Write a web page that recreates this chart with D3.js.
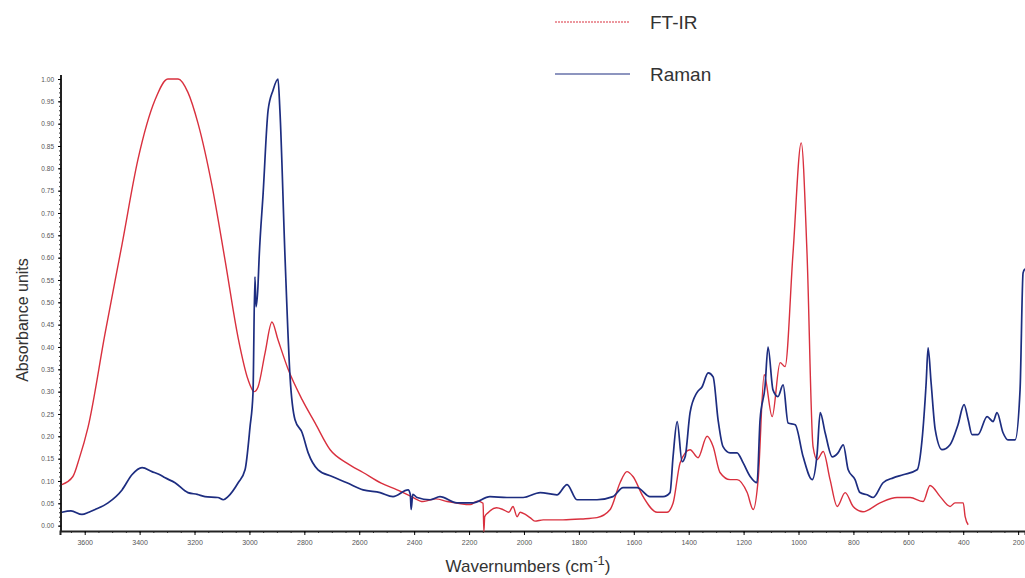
<!DOCTYPE html>
<html>
<head>
<meta charset="utf-8">
<script src="https://cdn.jsdelivr.net/npm/d3@7"></script>
<style>
  body { margin: 0; background: #fff; }
  svg { display: block; font-family: "Liberation Sans", Arial, sans-serif; }
</style>
</head>
<body>
<svg id="chart" width="1025" height="578"></svg>
<script>
// wavenumber (cm-1) / absorbance
var irWave = [3683, 3643, 3620, 3588, 3526, 3464, 3406, 3344, 3297, 3260, 3224, 3187, 3136, 3089, 3041, 3005, 2983, 2969, 2943, 2918, 2896, 2859, 2808, 2761, 2706, 2645, 2586, 2520, 2462, 2410, 2368, 2320, 2280, 2240, 2196, 2170, 2149, 2146, 2143, 2131, 2100, 2076, 2055, 2040, 2025, 2014, 1995, 1978, 1960, 1930, 1858, 1790, 1734, 1686, 1650, 1625, 1603, 1566, 1515, 1479, 1457, 1431, 1395, 1366, 1333, 1311, 1286, 1249, 1224, 1187, 1165, 1147, 1125, 1096, 1067, 1049, 1020, 990, 969, 947, 932, 910, 885, 859, 830, 801, 765, 703, 641, 593, 546, 521, 484, 448, 430, 400, 393, 382];
var irAbs  = [0.092, 0.11, 0.15, 0.22, 0.43, 0.63, 0.82, 0.953, 1.0, 1.0, 0.97, 0.90, 0.76, 0.595, 0.42, 0.327, 0.30, 0.31, 0.387, 0.456, 0.416, 0.35, 0.282, 0.23, 0.17, 0.14, 0.119, 0.095, 0.08, 0.065, 0.054, 0.06, 0.054, 0.05, 0.047, 0.055, 0.05, -0.013, 0.02, 0.029, 0.04, 0.036, 0.03, 0.043, 0.02, 0.03, 0.025, 0.018, 0.01, 0.013, 0.013, 0.015, 0.018, 0.036, 0.096, 0.121, 0.11, 0.065, 0.03, 0.03, 0.05, 0.141, 0.17, 0.152, 0.2, 0.177, 0.119, 0.103, 0.103, 0.074, 0.036, 0.103, 0.338, 0.244, 0.365, 0.356, 0.61, 0.857, 0.61, 0.177, 0.148, 0.166, 0.103, 0.043, 0.074, 0.043, 0.031, 0.051, 0.063, 0.063, 0.054, 0.09, 0.065, 0.043, 0.051, 0.051, 0.02, 0.002];

var ramanWave = [3683, 3650, 3610, 3585, 3562, 3515, 3464, 3428, 3391, 3355, 3330, 3307, 3271, 3224, 3190, 3162, 3115, 3095, 3078, 3041, 3016, 2998, 2987, 2980, 2976, 2969, 2965, 2950, 2932, 2914, 2896, 2889, 2870, 2852, 2834, 2808, 2786, 2750, 2699, 2645, 2586, 2524, 2477, 2422, 2414, 2411, 2405, 2389, 2342, 2306, 2244, 2186, 2124, 2062, 2003, 1941, 1880, 1843, 1807, 1734, 1676, 1639, 1588, 1541, 1493, 1468, 1457, 1442, 1424, 1413, 1395, 1370, 1351, 1329, 1311, 1293, 1275, 1249, 1224, 1202, 1176, 1151, 1140, 1122, 1111, 1093, 1075, 1056, 1038, 1012, 983, 950, 932, 921, 903, 877, 856, 837, 819, 794, 776, 750, 728, 692, 655, 619, 568, 550, 535, 528, 517, 502, 477, 448, 419, 397, 382, 368, 346, 313, 291, 277, 255, 237, 211, 193, 182, 175];
var ramanAbs  = [0.03, 0.033, 0.025, 0.03, 0.036, 0.051, 0.08, 0.114, 0.13, 0.121, 0.115, 0.107, 0.096, 0.074, 0.07, 0.065, 0.063, 0.058, 0.065, 0.096, 0.125, 0.22, 0.297, 0.557, 0.49, 0.535, 0.595, 0.745, 0.93, 0.975, 1.0, 0.93, 0.595, 0.333, 0.237, 0.208, 0.163, 0.125, 0.11, 0.096, 0.08, 0.074, 0.065, 0.08, 0.07, 0.036, 0.07, 0.063, 0.058, 0.065, 0.051, 0.051, 0.065, 0.063, 0.063, 0.074, 0.069, 0.092, 0.058, 0.058, 0.065, 0.085, 0.085, 0.065, 0.065, 0.074, 0.154, 0.233, 0.143, 0.154, 0.253, 0.298, 0.311, 0.342, 0.333, 0.237, 0.177, 0.163, 0.163, 0.141, 0.11, 0.096, 0.237, 0.311, 0.40, 0.304, 0.289, 0.315, 0.23, 0.226, 0.154, 0.103, 0.163, 0.253, 0.208, 0.154, 0.163, 0.181, 0.125, 0.103, 0.074, 0.069, 0.063, 0.096, 0.107, 0.114, 0.125, 0.192, 0.32, 0.398, 0.32, 0.215, 0.17, 0.181, 0.226, 0.271, 0.237, 0.204, 0.204, 0.244, 0.233, 0.253, 0.208, 0.192, 0.192, 0.304, 0.566, 0.575];

var xTicks = [3600, 3400, 3200, 3000, 2800, 2600, 2400, 2200, 2000, 1800, 1600, 1400, 1200, 1000, 800, 600, 400, 200];
var yTicks = d3.range(0, 21).map(function(i) { return i * 0.05; });

var svg = d3.select("#chart");
var x = d3.scaleLinear().domain([3690, 175]).range([60, 1025]);
var y = d3.scaleLinear().domain([-0.012, 1.0]).range([531, 79]);

// axes
svg.append("g")
    .attr("transform", "translate(0,531)")
    .call(d3.axisBottom(x).tickValues(d3.range(3650, 175, -50)).tickSize(2).tickFormat(""))
    .call(function(g) { g.select(".domain").remove(); g.selectAll("line").attr("stroke", "#333"); });
svg.append("g")
    .attr("transform", "translate(0,531)")
    .call(d3.axisBottom(x).tickValues(xTicks).tickSize(4).tickPadding(5)
        .tickFormat(d3.format("d")))
    .call(function(g) {
        g.select(".domain").attr("stroke", "#222").attr("stroke-width", 2);
        g.selectAll("text").attr("font-size", 7).attr("fill", "#555");
    });

svg.append("g")
    .attr("transform", "translate(61,0)")
    .call(d3.axisLeft(y).tickValues(d3.range(0, 1.001, 0.01)).tickSize(2).tickFormat(""))
    .call(function(g) { g.select(".domain").remove(); g.selectAll("line").attr("stroke", "#333"); });
svg.append("g")
    .attr("transform", "translate(61,0)")
    .call(d3.axisLeft(y).tickValues(yTicks).tickSize(3).tickPadding(4).tickFormat(d3.format(".2f")))
    .call(function(g) {
        g.select(".domain").attr("stroke", "#222").attr("stroke-width", 2).attr("d", "M0,75V531");
        g.selectAll("text").attr("font-size", 6.5).attr("fill", "#555");
    });

// curves
function line(wave) {
    return d3.line()
        .x(function(d, i) { return x(wave[i]); })
        .y(function(d) { return y(d); })
        .curve(d3.curveMonotoneX);
}

svg.append("path")
    .datum(irAbs)
    .attr("fill", "none")
    .attr("stroke", "#d9303e")
    .attr("stroke-width", 1.4)
    .attr("d", line(irWave));

svg.append("path")
    .datum(ramanAbs)
    .attr("fill", "none")
    .attr("stroke", "#1d2d80")
    .attr("stroke-width", 1.7)
    .attr("d", line(ramanWave));

// legend
var legend = [{name: "FT-IR", color: "#d9303e", y: 22, dash: "2,1"}, {name: "Raman", color: "#1d2d80", y: 74, dash: null}];
legend.forEach(function(l) {
    svg.append("line")
        .attr("x1", 555).attr("x2", 630).attr("y1", l.y).attr("y2", l.y)
        .attr("stroke", l.color).attr("stroke-width", 1.2)
        .attr("stroke-dasharray", l.dash);
    svg.append("text")
        .attr("x", 650).attr("y", l.y + 7)
        .attr("font-size", 19).attr("fill", "#333")
        .text(l.name);
});

// axis titles
svg.append("text")
    .attr("transform", "translate(28,320) rotate(-90)")
    .attr("text-anchor", "middle")
    .attr("font-size", 16).attr("fill", "#333")
    .text("Absorbance units");

var xt = svg.append("text")
    .attr("x", 528).attr("y", 572)
    .attr("text-anchor", "middle")
    .attr("font-size", 17).attr("fill", "#333");
xt.append("tspan").text("Wavernumbers (cm");
xt.append("tspan").attr("dy", -7).attr("font-size", 13).text("-1");
xt.append("tspan").attr("dy", 7).text(")");
</script>
</body>
</html>
